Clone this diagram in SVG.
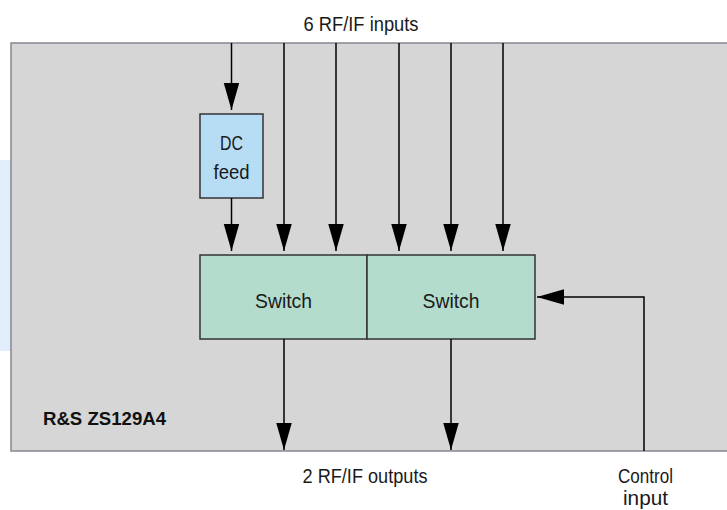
<svg xmlns="http://www.w3.org/2000/svg" width="727" height="510" viewBox="0 0 727 510">
  <style>
    .lbl { font-family: "Liberation Sans Narrow", "Liberation Sans", Arial, sans-serif; font-size: 21px; fill: #1a1a1a; }
    .bold { font-family: "Liberation Sans", Arial, sans-serif; font-size: 18.5px; font-weight: bold; fill: #111; }
    .wire { fill: none; stroke: #000; stroke-width: 1.5; }
    .box { stroke: #333; stroke-width: 1.5; }
  </style>
  <defs>
    <marker id="arr" markerUnits="userSpaceOnUse" markerWidth="28" markerHeight="16" refX="27" refY="7.75" orient="auto">
      <path d="M0,0 L27,7.75 L0,15.5 Z" fill="#000"/>
    </marker>
  </defs>
  <rect width="727" height="510" fill="#fff"/>
  <rect x="0" y="160" width="11" height="191" fill="#e0eefb"/>
  <g id="housing">
    <rect x="11" y="43" width="730" height="408" fill="#d6d6d6" stroke="#8a8490" stroke-width="1.5"/>
    <text class="bold" x="43" y="425" textLength="123" lengthAdjust="spacingAndGlyphs">R&amp;S ZS129A4</text>
  </g>
  <g id="dcfeed">
    <rect class="box" x="200" y="114" width="63" height="84" fill="#b7ddf5"/>
    <text class="lbl" x="231.5" y="150" text-anchor="middle" textLength="23" lengthAdjust="spacingAndGlyphs">DC</text>
    <text class="lbl" x="231.5" y="179" text-anchor="middle" textLength="36" lengthAdjust="spacingAndGlyphs">feed</text>
  </g>
  <g id="switch1">
    <rect class="box" x="200" y="255" width="167" height="84" fill="#b3dccd"/>
    <text class="lbl" x="283.5" y="308" text-anchor="middle" textLength="57" lengthAdjust="spacingAndGlyphs">Switch</text>
  </g>
  <g id="switch2">
    <rect class="box" x="367" y="255" width="168" height="84" fill="#b3dccd"/>
    <text class="lbl" x="451" y="308" text-anchor="middle" textLength="57" lengthAdjust="spacingAndGlyphs">Switch</text>
  </g>
  <g id="connectors">
    <path class="wire" d="M231.5,43 V110" marker-end="url(#arr)"/>
    <path class="wire" d="M231.5,198 V251" marker-end="url(#arr)"/>
    <path class="wire" d="M284,43 V251" marker-end="url(#arr)"/>
    <path class="wire" d="M336,43 V251" marker-end="url(#arr)"/>
    <path class="wire" d="M399,43 V251" marker-end="url(#arr)"/>
    <path class="wire" d="M451,43 V251" marker-end="url(#arr)"/>
    <path class="wire" d="M503,43 V251" marker-end="url(#arr)"/>
    <path class="wire" d="M284,339 V450" marker-end="url(#arr)"/>
    <path class="wire" d="M451,339 V450" marker-end="url(#arr)"/>
    <path class="wire" d="M644,451 V297 H537" marker-end="url(#arr)"/>
  </g>
  <g id="labels">
    <text class="lbl" x="361" y="31" text-anchor="middle" textLength="115" lengthAdjust="spacingAndGlyphs">6 RF/IF inputs</text>
    <text class="lbl" x="365" y="483" text-anchor="middle" textLength="125" lengthAdjust="spacingAndGlyphs">2 RF/IF outputs</text>
    <text class="lbl" x="645.5" y="483" text-anchor="middle" textLength="55" lengthAdjust="spacingAndGlyphs">Control</text>
    <text class="lbl" x="645.5" y="505" text-anchor="middle" textLength="45" lengthAdjust="spacingAndGlyphs">input</text>
  </g>
</svg>
